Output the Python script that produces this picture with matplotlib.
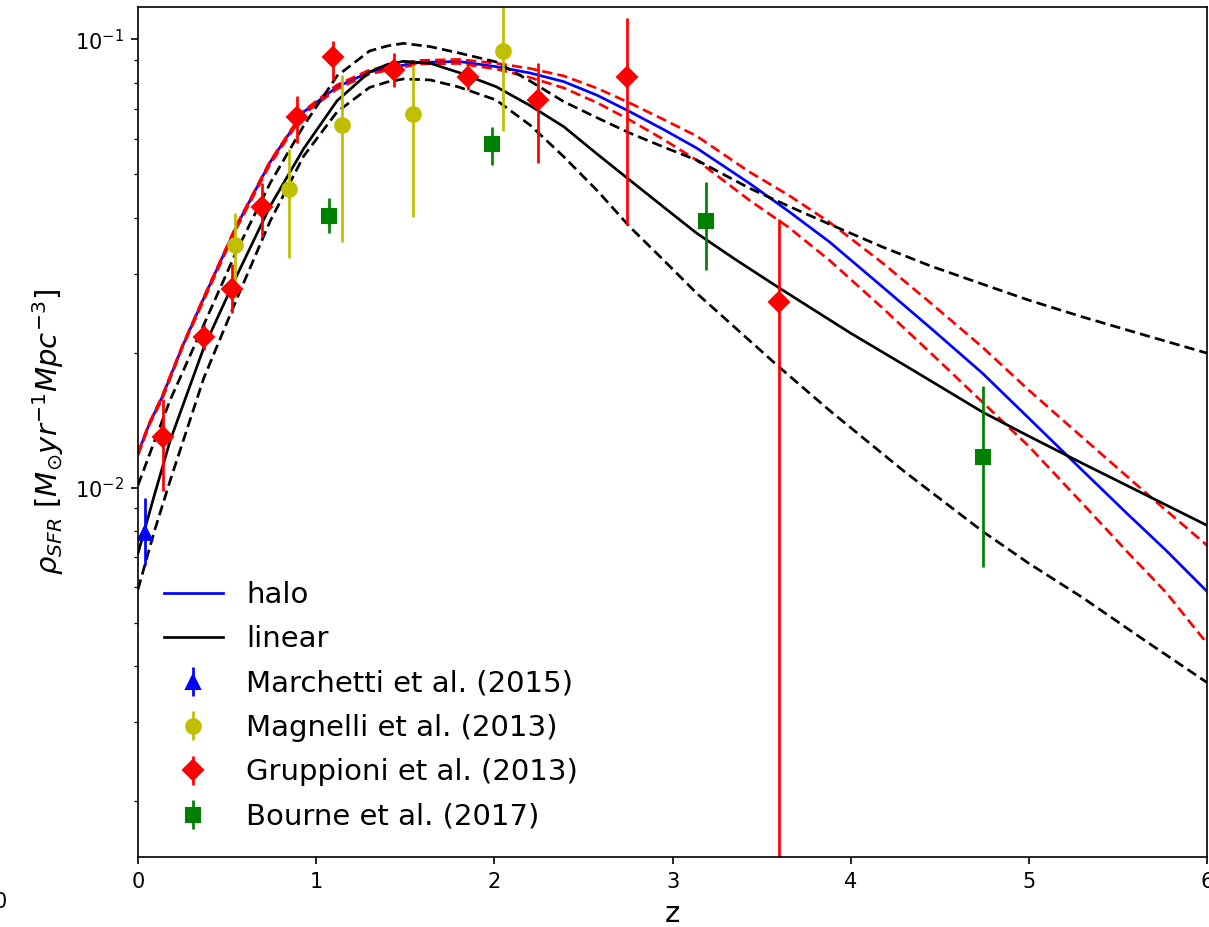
import numpy as np
import matplotlib
matplotlib.use("Agg")
import matplotlib.pyplot as plt

# ---- model curves ----
z_halo = [0.0, 0.065, 0.135, 0.25, 0.369, 0.556, 0.742, 0.93, 1.117, 1.30,
          1.45, 1.58, 1.8, 2.01, 2.2, 2.39, 2.58, 2.76, 2.95, 3.135,
          3.43, 3.65, 3.88, 4.18, 4.45, 4.74, 5.0, 5.30, 5.55, 5.77, 6.0]
halo = [0.01193, 0.01391, 0.01591, 0.02067, 0.02645, 0.03851, 0.05322, 0.06884,
        0.07825, 0.08453, 0.08696, 0.08874, 0.08921, 0.08687, 0.08409, 0.08042,
        0.07490, 0.06895, 0.06289, 0.05720, 0.04777, 0.04137, 0.03534, 0.02800,
        0.02267, 0.01799, 0.01428, 0.01093, 0.008762, 0.007244, 0.005868]
halo_hi = [0.01199, 0.01398, 0.01599, 0.02078, 0.02659, 0.03870, 0.05349, 0.06918,
           0.07907, 0.08541, 0.08786, 0.08968, 0.09014, 0.08839, 0.08606, 0.08281,
           0.07765, 0.07207, 0.06622, 0.06084, 0.05064, 0.04493, 0.03911, 0.03167,
           0.02579, 0.02056, 0.01649, 0.01295, 0.01060, 0.008898, 0.007433]
halo_lo = [0.01181, 0.01384, 0.01574, 0.02056, 0.02618, 0.03811, 0.05268, 0.06813,
           0.07745, 0.08366, 0.08606, 0.08809, 0.08831, 0.08584, 0.08217, 0.07785,
           0.07207, 0.06605, 0.05975, 0.05377, 0.04379, 0.03811, 0.03216, 0.02513,
           0.01995, 0.01550, 0.01236, 0.009226, 0.007207, 0.005838, 0.004493]

z_lin = [0.0, 0.09, 0.181, 0.369, 0.556, 0.742, 0.93, 1.117, 1.30, 1.40,
         1.49, 1.64, 1.8, 2.01, 2.2, 2.39, 2.58, 2.76, 2.95, 3.135,
         3.35, 3.6, 4.0, 4.35, 4.74, 5.0, 5.30, 5.65, 6.0]
linear = [0.007134, 0.009563, 0.01275, 0.02050, 0.02978, 0.04246, 0.05702, 0.07289,
          0.08453, 0.08786, 0.08928, 0.08839, 0.08431, 0.07837, 0.07115, 0.06381,
          0.05533, 0.04851, 0.04224, 0.03695, 0.03233, 0.02786, 0.02210, 0.01827,
          0.01474, 0.01302, 0.01133, 0.00966, 0.008237]

z_lin_hi = [0.0, 0.09, 0.18, 0.369, 0.556, 0.742, 0.93, 1.117, 1.30, 1.40,
            1.49, 1.64, 1.8, 2.01, 2.2, 2.39, 2.58, 2.76, 2.95, 3.135,
            3.43, 3.65, 3.88, 4.18, 4.45, 4.74, 5.0, 5.30, 5.65, 6.0]
linear_hi = [0.01012, 0.01262, 0.01566, 0.02306, 0.03386, 0.04777, 0.06413, 0.08281,
             0.09417, 0.09661, 0.09791, 0.09627, 0.09320, 0.08899, 0.08070, 0.07256,
             0.06672, 0.06177, 0.05749, 0.05377, 0.04657, 0.04246, 0.03870, 0.03439,
             0.03119, 0.02843, 0.02618, 0.02403, 0.02188, 0.01995]

z_lin_lo = [0.0, 0.09, 0.181, 0.369, 0.556, 0.742, 0.93, 1.117, 1.30, 1.40,
            1.49, 1.64, 1.8, 2.01, 2.2, 2.39, 2.58, 2.76, 2.95, 3.135,
            3.43, 3.6, 3.88, 4.3, 4.74, 5.0, 5.30, 5.65, 6.0]
linear_lo = [0.005929, 0.007948, 0.01038, 0.01754, 0.02645, 0.03930, 0.05489, 0.06884,
             0.07808, 0.08029, 0.08154, 0.08113, 0.07825, 0.07319, 0.06437, 0.05469,
             0.04585, 0.03817, 0.03216, 0.02715, 0.02132, 0.01855, 0.01488, 0.01087,
             0.007990, 0.006776, 0.005689, 0.004563, 0.003675]

# ---- observational data ----
march_z = [0.04]
march_v = [0.00791]
march_lo = [0.00671]
march_hi = [0.00946]

magn_z = [0.544, 0.847, 1.145, 1.546, 2.048]
magn_v = [0.03474, 0.04633, 0.06437, 0.06813, 0.09417]
magn_lo = [0.02645, 0.03254, 0.03527, 0.04011, 0.06242]
magn_hi = [0.04095, 0.05702, 0.08324, 0.08762, 0.14]

grup_z = [0.14, 0.37, 0.528, 0.696, 0.892, 1.094, 1.437, 1.852, 2.245, 2.744, 3.597]
grup_v = [0.01295, 0.02165, 0.02771, 0.04224, 0.06709, 0.09131, 0.08541, 0.08237,
          0.07319, 0.08237, 0.02592]
grup_lo = [0.009811, 0.02025, 0.02449, 0.03620, 0.05868, 0.08113, 0.07825, 0.07702,
           0.05305, 0.03850, 1e-6]
grup_hi = [0.01574, 0.02303, 0.03150, 0.04777, 0.07470, 0.09929, 0.09320, 0.08673,
           0.08839, 0.1116, 0.03965]

bourne_z = [1.072, 1.987, 3.188, 4.742]
bourne_v = [0.04041, 0.05830, 0.03930, 0.01170]
bourne_lo = [0.03695, 0.05240, 0.03055, 0.006648]
bourne_hi = [0.04424, 0.06381, 0.04809, 0.01683]


def yerr(v, lo, hi):
    v, lo, hi = np.array(v), np.array(lo), np.array(hi)
    return [v - lo, hi - v]


LW = 1.3
DASH = (0, (3.8, 1.9))

fig = plt.figure(figsize=(1209 / 150, 927 / 150), dpi=150)
ax = fig.add_axes([138 / 1209, 1 - 857 / 927, (1207 - 138) / 1209, (857 - 7) / 927])

ax.plot(z_halo, halo, color="b", lw=LW, label="halo")
ax.plot(z_halo, halo_hi, color="r", ls=DASH, lw=LW)
ax.plot(z_halo, halo_lo, color="r", ls=DASH, lw=LW)
ax.plot(z_lin, linear, color="k", lw=LW, label="linear")
ax.plot(z_lin_hi, linear_hi, color="k", ls=DASH, lw=LW)
ax.plot(z_lin_lo, linear_lo, color="k", ls=DASH, lw=LW)

ax.errorbar(march_z, march_v, yerr=yerr(march_v, march_lo, march_hi),
            fmt="^", color="b", ms=7, elinewidth=1.3, label="Marchetti et al. (2015)")
ax.errorbar(magn_z, magn_v, yerr=yerr(magn_v, magn_lo, magn_hi),
            fmt="o", color="y", ms=7, elinewidth=1.3, label="Magnelli et al. (2013)")
ax.errorbar(grup_z, grup_v, yerr=yerr(grup_v, grup_lo, grup_hi),
            fmt="D", color="r", ms=7, elinewidth=1.3, label="Gruppioni et al. (2013)")
ax.errorbar(bourne_z, bourne_v, yerr=yerr(bourne_v, bourne_lo, bourne_hi),
            fmt="s", color="g", ms=6.5, elinewidth=1.3, label="Bourne et al. (2017)")

ax.set_yscale("log")
ax.set_xlim(0, 6)
ax.set_ylim(0.0015, 0.118)
ax.tick_params(labelsize=10)
ax.set_xlabel("z", fontsize=14)
ax.set_ylabel(r"$\rho_{SFR}\ [M_{\odot}yr^{-1}Mpc^{-3}]$", fontsize=14)
ax.legend(loc="lower left", frameon=False, fontsize=14, labelspacing=0.56)

# partial label at the left edge of the original crop
fig.text(0.0, 1 - 902 / 927, "0", fontsize=10, ha="center", va="center")

fig.savefig("out.png", dpi=150)
